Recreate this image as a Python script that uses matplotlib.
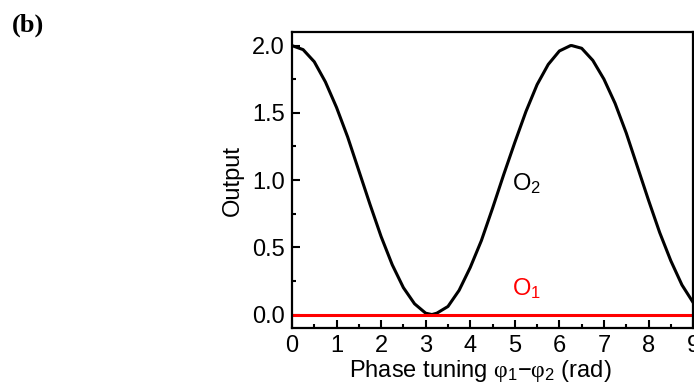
import matplotlib
matplotlib.use("Agg")
import matplotlib.pyplot as plt

plt.rcParams['font.family'] = ['Liberation Sans', 'DejaVu Sans']
plt.rcParams['mathtext.fontset'] = 'custom'
plt.rcParams['mathtext.rm'] = 'Liberation Serif'
plt.rcParams['mathtext.it'] = 'Liberation Serif'
plt.rcParams['mathtext.sf'] = 'Liberation Sans'

# values
phase = [0, 0.25, 0.5, 0.75, 1.0, 1.25, 1.5, 1.75, 2.0, 2.25, 2.5, 2.75, 3.0, 3.14,
         3.25, 3.5, 3.75, 4.0, 4.25, 4.5, 4.75, 5.0, 5.25, 5.5, 5.75, 6.0, 6.25, 6.28,
         6.5, 6.75, 7.0, 7.25, 7.5, 7.75, 8.0, 8.25, 8.5, 8.75, 9.0]
o2 = [2.00, 1.97, 1.88, 1.73, 1.54, 1.32, 1.07, 0.82, 0.58, 0.37, 0.20, 0.08, 0.01, 0.00,
      0.01, 0.06, 0.18, 0.35, 0.55, 0.79, 1.04, 1.28, 1.51, 1.71, 1.86, 1.96, 2.00, 2.00,
      1.98, 1.89, 1.75, 1.57, 1.35, 1.10, 0.85, 0.61, 0.40, 0.22, 0.09]
o1_x = [0, 9]
o1 = [0.0, 0.0]

xticks = list(range(10))
yticks = [0.0, 0.5, 1.0, 1.5, 2.0]

fig = plt.figure(figsize=(6.94, 3.92), dpi=100)
ax = fig.add_axes([0.4207, 0.1633, 0.578, 0.7547])

ax.plot(phase, o2, color='black', lw=2.2, solid_joinstyle='round')
ax.plot(o1_x, o1, color='#ff0000', lw=2.2)

ax.set_xlim(0, 9)
ax.set_ylim(-0.1, 2.1)
ax.set_xticks(xticks)
ax.set_yticks(yticks)
ax.set_yticklabels(['%.1f' % v for v in yticks])
ax.set_xticks([v + 0.5 for v in xticks[:-1]], minor=True)
ax.set_yticks([0.25, 0.75, 1.25, 1.75], minor=True)
ax.tick_params(which='both', direction='in', top=False, right=False, labelsize=17, width=1.5)
ax.tick_params(which='major', length=6, pad=5)
ax.tick_params(which='minor', length=3)
for s in ax.spines.values():
    s.set_linewidth(1.6)

ax.set_ylabel('Output', fontsize=17, labelpad=6)
ax.set_xlabel(r'Phase tuning $\mathrm{\varphi}_{\mathsf{1}}\mathsf{-}\mathrm{\varphi}_{\mathsf{2}}$ (rad)',
              fontsize=17, labelpad=1)
ax.xaxis.set_label_coords(0.47, -0.1)
ax.xaxis.label.set_va('top')

ax.text(4.94, 0.97, r'O$_{\mathsf{2}}$', fontsize=17, ha='left', va='center', color='black')
ax.text(4.94, 0.19, r'O$_{\mathsf{1}}$', fontsize=17, ha='left', va='center', color='#ff0000')

fig.text(0.017, 0.935, '(b)', fontsize=19, fontweight='bold', family='Liberation Serif',
         ha='left', va='center')

fig.savefig('out.png', dpi=100)
